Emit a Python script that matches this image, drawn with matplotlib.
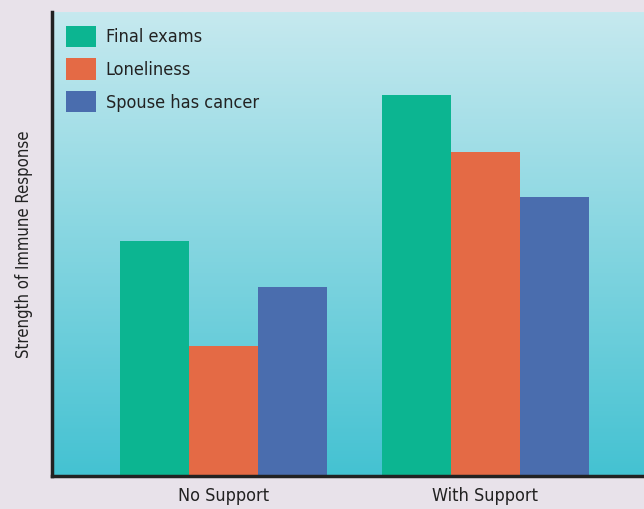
import matplotlib.pyplot as plt
import numpy as np
from matplotlib.colors import LinearSegmentedColormap

# data (arbitrary units 0-100)
groups = ['No Support', 'With Support']
series = ['Final exams', 'Loneliness', 'Spouse has cancer']
final_exams = [50.6, 82.1]
loneliness = [28.0, 69.8]
spouse_cancer = [40.7, 60.1]

colors = ['#0cb591', '#e46a45', '#4a6dae']
values = [final_exams, loneliness, spouse_cancer]

plt.rcParams['font.family'] = 'DejaVu Sans'
plt.rcParams['font.stretch'] = 'condensed'

fig = plt.figure(figsize=(6.44, 5.09), dpi=100, facecolor='#e8e2ea')
ax = fig.add_axes([52/644, 33/509, 592/644, 464/509])

# gradient background (light cyan at top, teal at bottom)
cmap = LinearSegmentedColormap.from_list('bg', ['#44c2d2', '#c6e9ef'])
grad = np.linspace(0, 1, 256).reshape(-1, 1)
ax.imshow(grad, aspect='auto', cmap=cmap, origin='lower',
          extent=[-2.48, 6.1, 0, 100], zorder=0)

centers = np.arange(len(groups)) * 3.8
for i, (name, vals) in enumerate(zip(series, values)):
    ax.bar(centers + (i - 1), vals, width=1.0, color=colors[i],
           label=name, zorder=2)

ax.set_xlim(-2.48, 6.1)
ax.set_ylim(0, 100)
ax.set_xticks(centers)
ax.set_xticklabels(groups, fontsize=13, color='#222222')
ax.set_yticks([])
ax.tick_params(axis='x', length=0, pad=8)
ax.set_ylabel('Strength of Immune Response', fontsize=12, color='#222222', labelpad=14)

for s in ['top', 'right']:
    ax.spines[s].set_visible(False)
for s in ['left', 'bottom']:
    ax.spines[s].set_linewidth(2.5)
    ax.spines[s].set_color('#222222')

leg = ax.legend(loc='upper left', frameon=False, fontsize=13,
                handlelength=1.67, handleheight=1.45, handletextpad=0.55,
                labelspacing=0.62, borderpad=0.35, borderaxespad=0.4)
for t in leg.get_texts():
    t.set_color('#222222')

plt.savefig('out.png', dpi=100, facecolor=fig.get_facecolor())
